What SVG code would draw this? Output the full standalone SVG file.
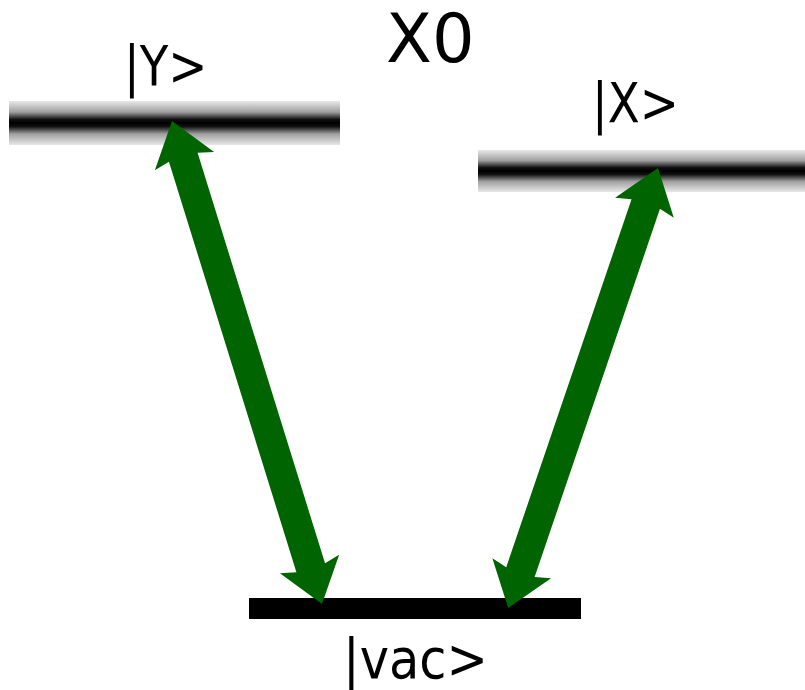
<svg xmlns="http://www.w3.org/2000/svg" width="805" height="690" viewBox="0 0 805 690">
<defs>
<linearGradient id="lvl" x1="0" y1="0" x2="0" y2="1">
<stop offset="0" stop-color="#e8e8e8"/>
<stop offset="0.25" stop-color="#a0a0a0"/>
<stop offset="0.42" stop-color="#101010"/>
<stop offset="0.5" stop-color="#000"/>
<stop offset="0.58" stop-color="#101010"/>
<stop offset="0.75" stop-color="#a0a0a0"/>
<stop offset="1" stop-color="#e8e8e8"/>
</linearGradient>
<style>
text{font-family:"DejaVu Sans",sans-serif;fill:#000}
.arrow{fill:#006400}
</style>
</defs>
<rect width="805" height="690" fill="#fff"/>
<text x="386" y="62" font-size="67">X0</text>
<g id="levelY">
<rect x="9" y="101" width="331" height="44" fill="url(#lvl)"/>
<text transform="translate(124,85) scale(0.85,1)" font-size="55">|Y&gt;</text>
</g>
<g id="levelX">
<rect x="478" y="150" width="327" height="42" fill="url(#lvl)"/>
<text transform="translate(592,122) scale(0.85,1)" font-size="55">|X&gt;</text>
</g>
<g id="levelVac">
<rect x="249" y="598" width="332" height="21" fill="#000"/>
<text transform="translate(343,678) scale(0.9,1)" font-size="55">|vac&gt;</text>
</g>
<g id="connectors">
<polygon class="arrow" transform="translate(172,121) rotate(72.75)" points="0,0 42,-31 38,-15 467.8,-15 463.8,-31 505.8,0 463.8,31 467.8,15 38,15 42,31"/>
<polygon class="arrow" transform="translate(658,168) rotate(108.8)" points="0,0 42,-31 38,-15 426.9,-15 422.9,-31 464.9,0 422.9,31 426.9,15 38,15 42,31"/>
</g>
</svg>
